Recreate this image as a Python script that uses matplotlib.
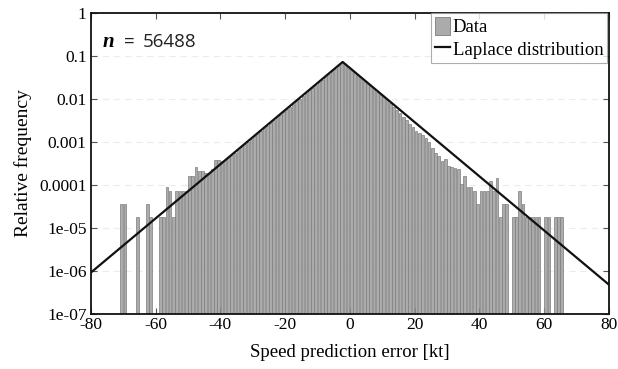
import numpy as np
import matplotlib
matplotlib.use("Agg")
import matplotlib.pyplot as plt
from matplotlib.patches import Patch
from matplotlib.lines import Line2D

# histogram of speed prediction errors, 1 kt bins [k, k+1)
n_samples = 56488
bin_left = list(range(-71, 66))
counts = [
    2, 2, 0, 0, 0, 1, 0, 0, 2, 1,            # -71 .. -62
    0, 0, 1, 1, 5, 4, 1, 4, 4, 4,            # -61 .. -52
    4, 9, 9, 15, 12, 12, 11, 11, 13, 21,     # -51 .. -42
    21, 20, 21, 24, 28, 32, 37, 43, 50, 57,  # -41 .. -32
    66, 77, 88, 102, 118, 136, 157, 182, 210, 242,        # -31 .. -22
    280, 322, 372, 430, 500, 575, 665, 770, 890, 1030,    # -21 .. -12
    1190, 1380, 1590, 1840, 2130, 2470, 2850, 3300, 3800, 3600,  # -11 .. -2
    3100, 2690, 2320, 2000, 1730, 1500, 1290, 1110, 960, 830,    # -1 .. 8
    715, 615, 525, 450, 375, 315, 265, 220, 182, 150,     # 9 .. 18
    125, 103, 90, 82, 68, 56, 40, 31, 27, 20,             # 19 .. 28
    23, 16, 15, 14, 13, 6, 9, 5, 5, 4,                    # 29 .. 38
    2, 4, 4, 4, 7, 4, 8, 1, 2, 2,                         # 39 .. 48
    0, 1, 1, 4, 2, 1, 1, 1, 1, 1,                         # 49 .. 58
    0, 1, 1, 0, 1, 1, 1,                                  # 59 .. 65
]

# fitted Laplace parameters
laplace_mu = -2.2
laplace_b = 6.9

x_ticks = [-80, -60, -40, -20, 0, 20, 40, 60, 80]
x_ticklabels = ["-80", "-60", "-40", "-20", "0", "20", "40", "60", "80"]
y_ticks = [1, 0.1, 0.01, 0.001, 0.0001, 1e-05, 1e-06, 1e-07]
y_ticklabels = ["1", "0.1", "0.01", "0.001", "0.0001", "1e-05", "1e-06", "1e-07"]

serif = "Liberation Serif"

fig = plt.figure(figsize=(6.18, 3.69), dpi=100)
ax = fig.add_axes([0.147, 0.149, 0.838, 0.816])

freq = np.array(counts) / n_samples
centers = np.array(bin_left) + 0.5
mask = freq > 0
ax.bar(centers[mask], freq[mask], width=0.82, bottom=1e-7,
       color="#ababab", edgecolor="#7d7d7d", linewidth=0.5, zorder=2)

xs = np.linspace(-80, 80, 400)
pdf = np.exp(-np.abs(xs - laplace_mu) / laplace_b) / (2 * laplace_b)
ax.plot(xs, pdf, color="#111111", lw=1.6, zorder=3)

ax.set_yscale("log")
ax.set_xlim(-80, 80)
ax.set_ylim(1e-7, 1)
ax.set_xticks(x_ticks)
ax.set_xticklabels(x_ticklabels, family=serif, fontsize=12.5)
ax.set_yticks(y_ticks)
ax.set_yticklabels(y_ticklabels, family=serif, fontsize=12.5)
ax.minorticks_off()
ax.tick_params(direction="in", top=True, right=True, length=4, width=0.8,
               color="#555555", pad=2)
ax.tick_params(axis="y", pad=3)
for s in ax.spines.values():
    s.set_linewidth(1.3)
    s.set_color("#111111")

ax.yaxis.grid(True, color="#ececec", linestyle=(0, (6, 4)), lw=0.8, zorder=0)
ax.set_axisbelow(True)

ax.set_xlabel("Speed prediction error [kt]", family=serif, fontsize=13.5, labelpad=8)
ax.set_ylabel("Relative frequency", family=serif, fontsize=14, labelpad=5)

# sample size note
ax.text(0.023, 0.905, "n", transform=ax.transAxes, family=serif,
        style="italic", weight="bold", fontsize=15, va="center")
ax.text(0.064, 0.905, "=", transform=ax.transAxes, family="Open Sans",
        fontsize=13.5, va="center", color="#222222")
ax.text(0.100, 0.905, f"{n_samples}", transform=ax.transAxes, family="Open Sans",
        fontsize=13.5, va="center", color="#222222")

handles = [Patch(facecolor="#ababab", edgecolor="#7d7d7d", lw=0.6),
           Line2D([0], [0], color="#111111", lw=1.6)]
leg = ax.legend(handles, ["Data", "Laplace distribution"], loc="upper right",
                bbox_to_anchor=(0.997, 1.0), borderaxespad=0.0,
                prop={"family": serif, "size": 13.5}, frameon=True, fancybox=False,
                handlelength=0.8, handleheight=1.1, handletextpad=0.15,
                borderpad=0.2, labelspacing=0.2)
leg.get_frame().set_edgecolor("#999999")
leg.get_frame().set_linewidth(0.8)

fig.savefig("out.png", dpi=100)
